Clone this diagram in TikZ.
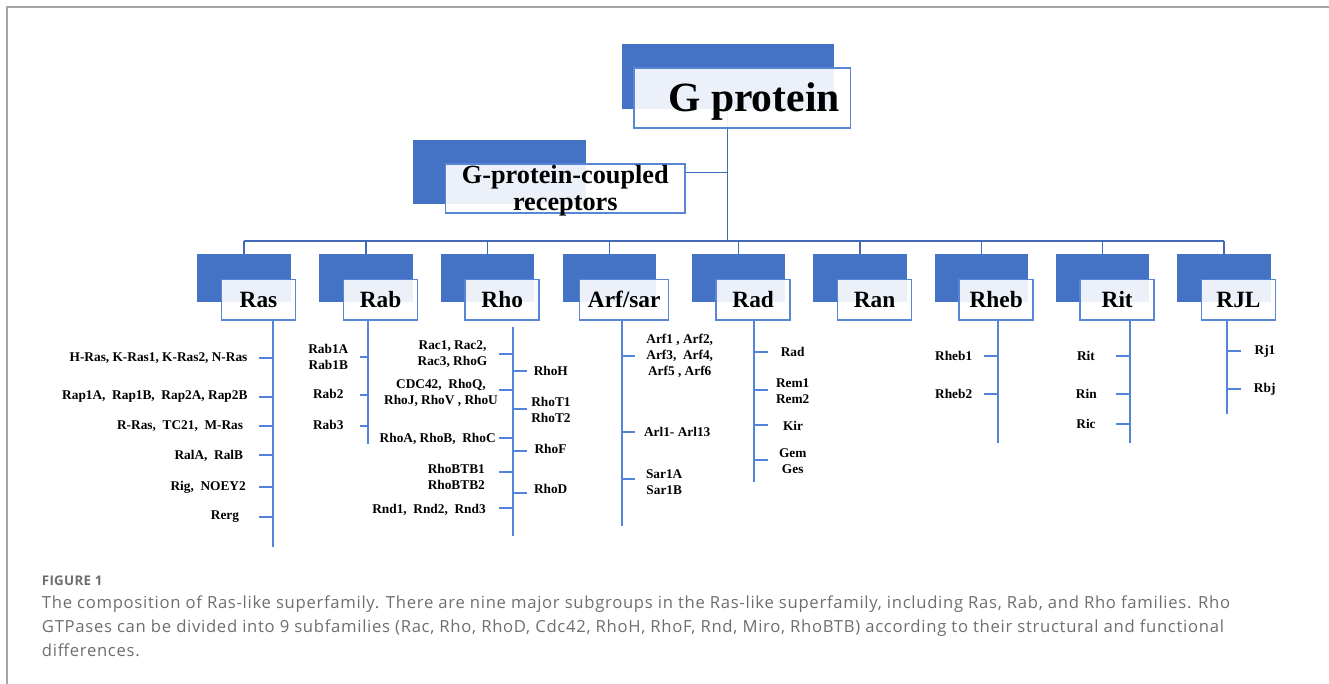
\documentclass[tikz,border=0pt]{standalone}
\usepackage{fontspec}
\setmainfont{Liberation Serif}
\newfontfamily\capfont[LetterSpace=4.2]{Open Sans}
\newfontfamily\capbold[LetterSpace=2]{Open Sans}
\usetikzlibrary{calc}
\pgfdeclarelayer{background}
\pgfsetlayers{background,main}
\definecolor{gblue}{RGB}{68,114,196}
\definecolor{wborder}{RGB}{88,133,212}
\definecolor{busblue}{RGB}{66,104,184}
\definecolor{lblue}{RGB}{82,132,220}
\definecolor{framegray}{RGB}{165,165,165}
\definecolor{capgray}{RGB}{110,110,110}
\tikzset{
  bluebox/.style={fill=gblue, draw=none, inner sep=0pt, minimum width=70.1pt, minimum height=35.8pt},
  wbox/.style={draw=wborder, fill=white, fill opacity=0.9, line width=1.1pt, inner sep=0pt, minimum width=55.5pt, minimum height=30.5pt},
  fam/.style={font=\bfseries\fontsize{17.5}{20}\selectfont, inner sep=0pt, anchor=base},
  item/.style={font=\bfseries\fontsize{10}{12}\selectfont, inner sep=0pt, align=center},
  bus/.style={draw=busblue, line width=1.1pt},
  spine/.style={draw=lblue, line width=1.5pt},
  captext/.style={font=\capfont\fontsize{12.5}{18}\selectfont, text=capgray, inner sep=0pt, anchor=base west},
}
\begin{document}
\begin{tikzpicture}[x=0.75pt,y=-0.75pt]
\useasboundingbox (0,0) rectangle (1329,684);
\draw[framegray, line width=1.4pt] (7,684) -- (7,7) -- (1329,7);

% top nodes
\node[bluebox, minimum width=159.2pt, minimum height=48.8pt] (gp-b) at (727.85,76.2) {};
\node[wbox, minimum width=162.5pt, minimum height=45pt] (gp) at (742.35,98) {};
\node[font=\bfseries\fontsize{31.2}{36}\selectfont, inner sep=0pt, anchor=base] (gp-t) at (754,111.7) {G protein};

\node[bluebox, minimum width=129.8pt, minimum height=48pt] (gpcr-b) at (499.5,172) {};
\node[wbox, minimum width=179.4pt, minimum height=36.8pt] (gpcr) at (565.35,188.5) {};
\node[font=\bfseries\fontsize{19.7}{20.25}\selectfont, inner sep=0pt, align=center] (gpcr-t) at (565.3,190.5) {G-protein-coupled\\receptors};

\coordinate (trunk) at (727.7,241);
\coordinate (gpcrj) at (727.7,172.3);

% family boxes
\foreach \n/\cx/\w/\t in {ras/244/55.5/Ras, rab/366/55.5/Rab, rho/487.7/55.5/Rho, arf/609.7/66.75/Arf\slash sar, rad/738.7/55.5/Rad, ran/860/55.5/Ran, rheb/981.7/55.5/Rheb, rit/1102.7/55.5/Rit, rjl/1224/55.5/RJL}{
  \node[bluebox] (\n-b) at (\cx,277.85) {};
  \node[wbox, minimum width=\w pt] (\n) at (\cx+14.5,299.65) {};
  \node[fam] (\n-t) at (\cx+14.5,307.7) {\t};
}

% item labels
% Ras
\node[item, anchor=east] (ras1) at (247.7,357.7) {H-Ras, K-Ras1, K-Ras2, N-Ras};
\node[item, anchor=east] (ras2) at (247.7,396.7) {Rap1A,\ \ Rap1B,\ \ Rap2A, Rap2B};
\node[item, anchor=east] (ras3) at (243.3,426) {R-Ras,\ \ TC21,\ \ M-Ras};
\node[item, anchor=east] (ras4) at (243.3,455.5) {RalA,\ \ RalB};
\node[item, anchor=east] (ras5) at (246,487.3) {Rig,\ \ NOEY2};
\node[item, anchor=east] (ras6) at (239.3,516.7) {Rerg};
% Rab
\node[item] (rab1) at (328.3,356.7) {Rab1A\\Rab1B};
\node[item] (rab2) at (328.3,394.3) {Rab2};
\node[item] (rab3) at (328.3,425.3) {Rab3};
% Rho left
\node[item] (rho1) at (452.5,354.5) {Rac1, Rac2,\\Rac3, RhoG};
\node[item] (rho2) at (441,392.5) {CDC42,\ \ RhoQ,\\RhoJ, RhoV , RhoU};
\node[item] (rho3) at (437.7,438.7) {RhoA, RhoB,\ \ RhoC};
\node[item] (rho4) at (456.3,477) {RhoBTB1\\RhoBTB2};
\node[item] (rho5) at (429,510.3) {Rnd1,\ \ Rnd2,\ \ Rnd3};
% Rho right
\node[item] (rho6) at (550.8,371) {RhoH};
\node[item] (rho7) at (551,409.7) {RhoT1\\RhoT2};
\node[item] (rho8) at (550.5,448.7) {RhoF};
\node[item] (rho9) at (550.7,488.7) {RhoD};
% Arf
\node[item] (arf1) at (679.7,356.3) {Arf1 , Arf2,\\Arf3,\ \ Arf4,\\Arf5 , Arf6};
\node[item] (arf2) at (677.2,432) {Arl1- Arl13};
\node[item] (arf3) at (664.2,482.2) {Sar1A\\Sar1B};
% Rad
\node[item] (rad1) at (792.7,352.3) {Rad};
\node[item] (rad2) at (792.7,390.7) {Rem1\\Rem2};
\node[item] (rad3) at (793,425.7) {Kir};
\node[item] (rad4) at (792.7,461.2) {Gem\\Ges};
% Rheb
\node[item] (rheb1) at (953.7,355.7) {Rheb1};
\node[item] (rheb2) at (953.7,393.7) {Rheb2};
% Rit
\node[item] (rit1) at (1086,355.7) {Rit};
\node[item] (rit2) at (1086.3,393.7) {Rin};
\node[item] (rit3) at (1086,424.3) {Ric};
% RJL
\node[item] (rjl1) at (1265,351.3) {Rj1};
\node[item] (rjl2) at (1264.7,389.3) {Rbj};

% spine end coordinates
\coordinate (ras-e) at (272.7,547);
\coordinate (rab-e) at (368,444);
\coordinate (rho-s) at (512.7,326.7);
\coordinate (rho-e) at (512.7,536);
\coordinate (arf-e) at (621.7,525.7);
\coordinate (rad-e) at (754.3,482.3);
\coordinate (rheb-e) at (997.7,442.7);
\coordinate (rit-e) at (1130,442.7);
\coordinate (rjl-e) at (1226.7,414);

\begin{pgfonlayer}{background}
  \draw[bus] (gp.center -| trunk) -- (trunk);
  \draw[bus] (gpcr.east |- gpcrj) -- (gpcrj);
  \draw[bus] (ras-b.north |- trunk) -- (rjl-b.north |- trunk);
  \foreach \n in {ras,rab,rho,arf,rad,ran,rheb,rit,rjl}{
    \draw[bus] (\n-b.north |- trunk) -- (\n-b.north);
  }
  % spines
  \draw[spine] (ras.south -| ras-e) -- (ras-e);
  \draw[spine] (rab.south -| rab-e) -- (rab-e);
  \draw[spine] (rho-s) -- (rho-e);
  \draw[spine] (arf.south -| arf-e) -- (arf-e);
  \draw[spine] (rad.south -| rad-e) -- (rad-e);
  \draw[spine] (rheb.south -| rheb-e) -- (rheb-e);
  \draw[spine] (rit.south -| rit-e) -- (rit-e);
  \draw[spine] (rjl.south -| rjl-e) -- (rjl-e);
  % ticks
  \foreach \y in {357.7,396.7,426,455,487,516.7}{\draw[spine] (259,\y) -- (ras-e |- 0,\y);}
  \foreach \y in {357,394.7,425.7}{\draw[spine] (360,\y) -- (rab-e |- 0,\y);}
  \foreach \y in {353.7,389.7,438.3,471.7,508.3}{\draw[spine] (499.3,\y) -- (rho-e |- 0,\y);}
  \foreach \y in {370.7,409,450.7,493}{\draw[spine] (rho-e |- 0,\y) -- (526.7,\y);}
  \foreach \y in {356,432.3,479.3}{\draw[spine] (arf-e |- 0,\y) -- (635.3,\y);}
  \foreach \y in {352,389.7,425,460.3}{\draw[spine] (rad-e |- 0,\y) -- (768.3,\y);}
  \foreach \y in {355.7,393.7}{\draw[spine] (984,\y) -- (rheb-e |- 0,\y);}
  \foreach \y in {355.7,393.7,424.3}{\draw[spine] (1116,\y) -- (rit-e |- 0,\y);}
  \foreach \y in {351.3,389.3}{\draw[spine] (rjl-e |- 0,\y) -- (1240.7,\y);}
\end{pgfonlayer}

% caption
\node[captext, font=\capbold\bfseries\fontsize{10}{12}\selectfont] (figlabel) at (41.7,585.7) {FIGURE 1};
\node[captext] (cap1) at (41.7,608.2) {The composition of Ras-like superfamily. There are nine major subgroups in the Ras-like superfamily, including Ras, Rab, and Rho families. Rho};
\node[captext] (cap2) at (41.7,632.3) {GTPases can be divided into 9 subfamilies (Rac, Rho, RhoD, Cdc42, RhoH, RhoF, Rnd, Miro, RhoBTB) according to their structural and functional};
\node[captext] (cap3) at (41.7,656.6) {differences.};
\end{tikzpicture}
\end{document}
